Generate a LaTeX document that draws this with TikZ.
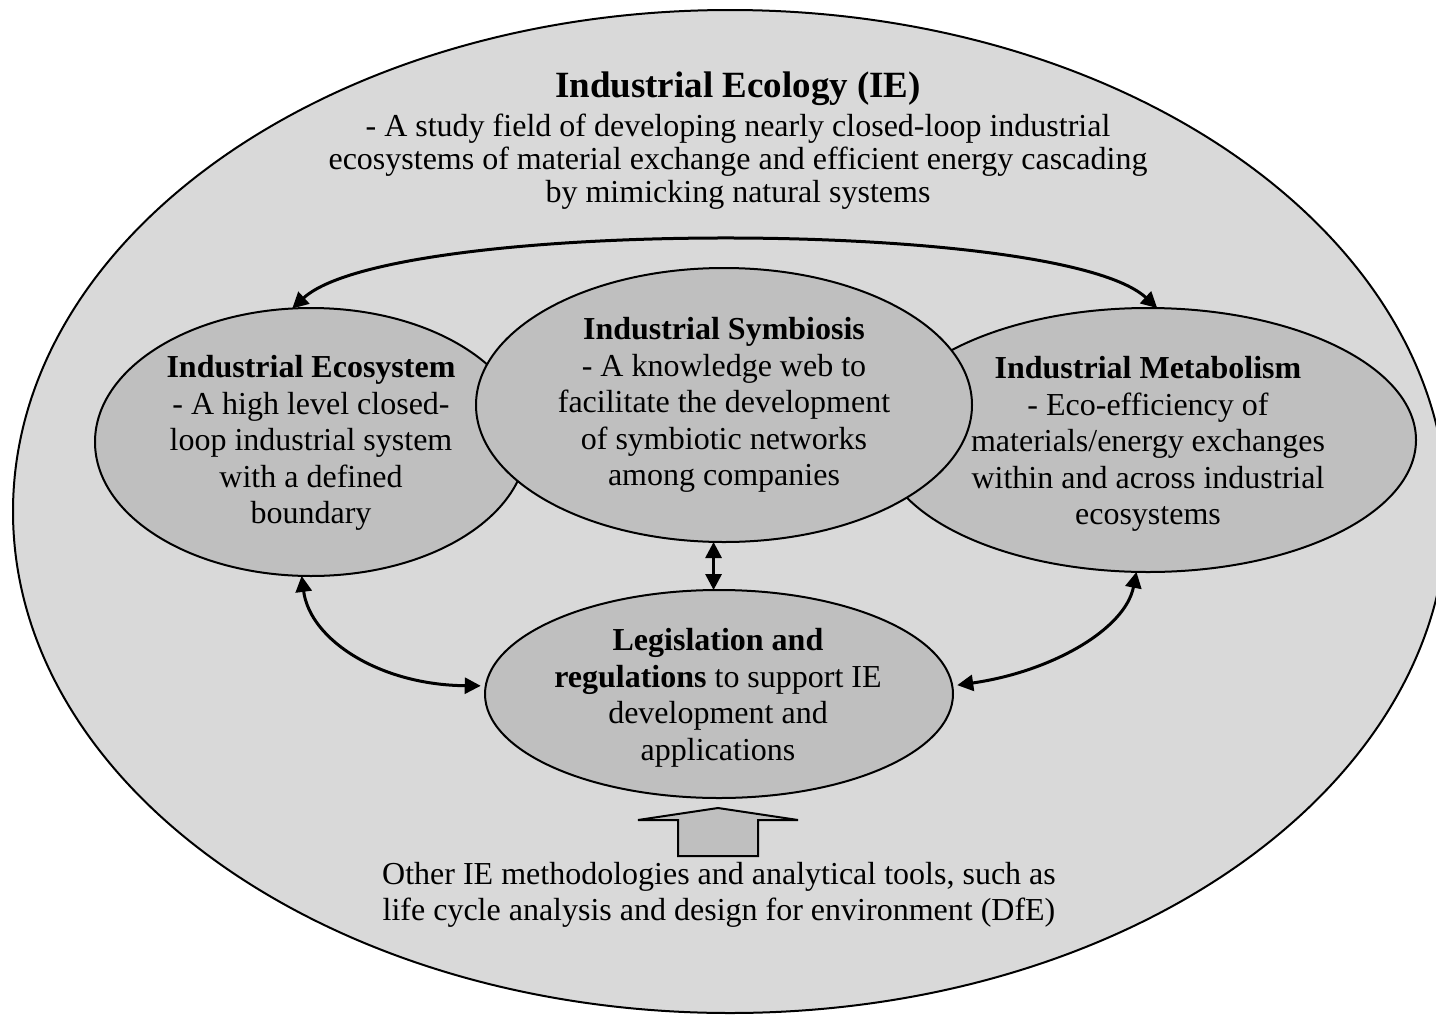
\documentclass[tikz,border=0pt]{standalone}
\usepackage{fontspec}
\setmainfont{Liberation Serif}
\usetikzlibrary{arrows.meta,shapes.geometric}
\definecolor{outerfill}{HTML}{D9D9D9}
\definecolor{innerfill}{HTML}{BFBFBF}
\begin{document}
\begin{tikzpicture}[x=1pt,y=-1pt,
  oval/.style={ellipse, draw=black, line width=2pt, fill=innerfill, inner sep=0pt, outer sep=0pt},
  txt/.style={align=center, font=\fontsize{32}{36.5}\selectfont, inner sep=0pt},
  conn/.style={line width=3pt, {Triangle[length=16pt,width=16pt]}-{Triangle[length=16pt,width=16pt]}},
  blockarrow/.style={draw=black, line width=2pt, fill=innerfill}
]
\useasboundingbox (0,0) rectangle (1436,1015);
\node[ellipse, draw=black, line width=2pt, fill=outerfill, minimum width=1434pt, minimum height=1003pt, inner sep=0pt] (ie) at (730,511.5) {};
\node[txt, anchor=base, font=\fontsize{37}{40}\selectfont\bfseries] (title) at (738,97) {Industrial Ecology (IE)};
\node[txt, font=\fontsize{32}{33}\selectfont] (def) at (738,162) {- A study field of developing nearly closed-loop industrial\\ecosystems of material exchange and efficient energy cascading\\by mimicking natural systems};

\node[oval, minimum width=432pt, minimum height=268pt] (eco) at (311,442) {};
\node[oval, minimum width=536pt, minimum height=264pt] (met) at (1148,440) {};
\node[oval, minimum width=496pt, minimum height=274pt] (sym) at (724,405) {};
\node[oval, minimum width=468pt, minimum height=208pt] (leg) at (719,694) {};

\node[txt] (ecot) at (311,443) {\textbf{Industrial Ecosystem}\\- A high level closed-\\loop industrial system\\with a defined\\boundary};
\node[txt] (symt) at (724,405) {\textbf{Industrial Symbiosis}\\- A knowledge web to\\facilitate the development\\of symbiotic networks\\among companies};
\node[txt] (mett) at (1148,444) {\textbf{Industrial Metabolism}\\- Eco-efficiency of\\materials/energy exchanges\\within and across industrial\\ecosystems};
\node[txt] (legt) at (718,698) {\textbf{Legislation and}\\\textbf{regulations} to support IE\\development and\\applications};
\node[txt] (other) at (719,895) {Other IE methodologies and analytical tools, such as\\life cycle analysis and design for environment (DfE)};

\draw[conn] (eco.98) .. controls (390,218) and (1060,218) .. (met.86.5);
\draw[conn, shorten >=5pt] (eco.-94.6) .. controls (310,640) and (380,685) .. (leg.178);
\draw[conn, shorten <=5pt] (leg.2.6) .. controls (1050,672) and (1125,630) .. (met.-95.8);
\draw[conn] (leg.93.3) -- (sym.south -| leg.93.3);

\draw[blockarrow] (718,808) -- (798,820) -- (758,820) -- (758,856) -- (678,856) -- (678,820) -- (638,820) -- cycle;
\end{tikzpicture}
\end{document}
